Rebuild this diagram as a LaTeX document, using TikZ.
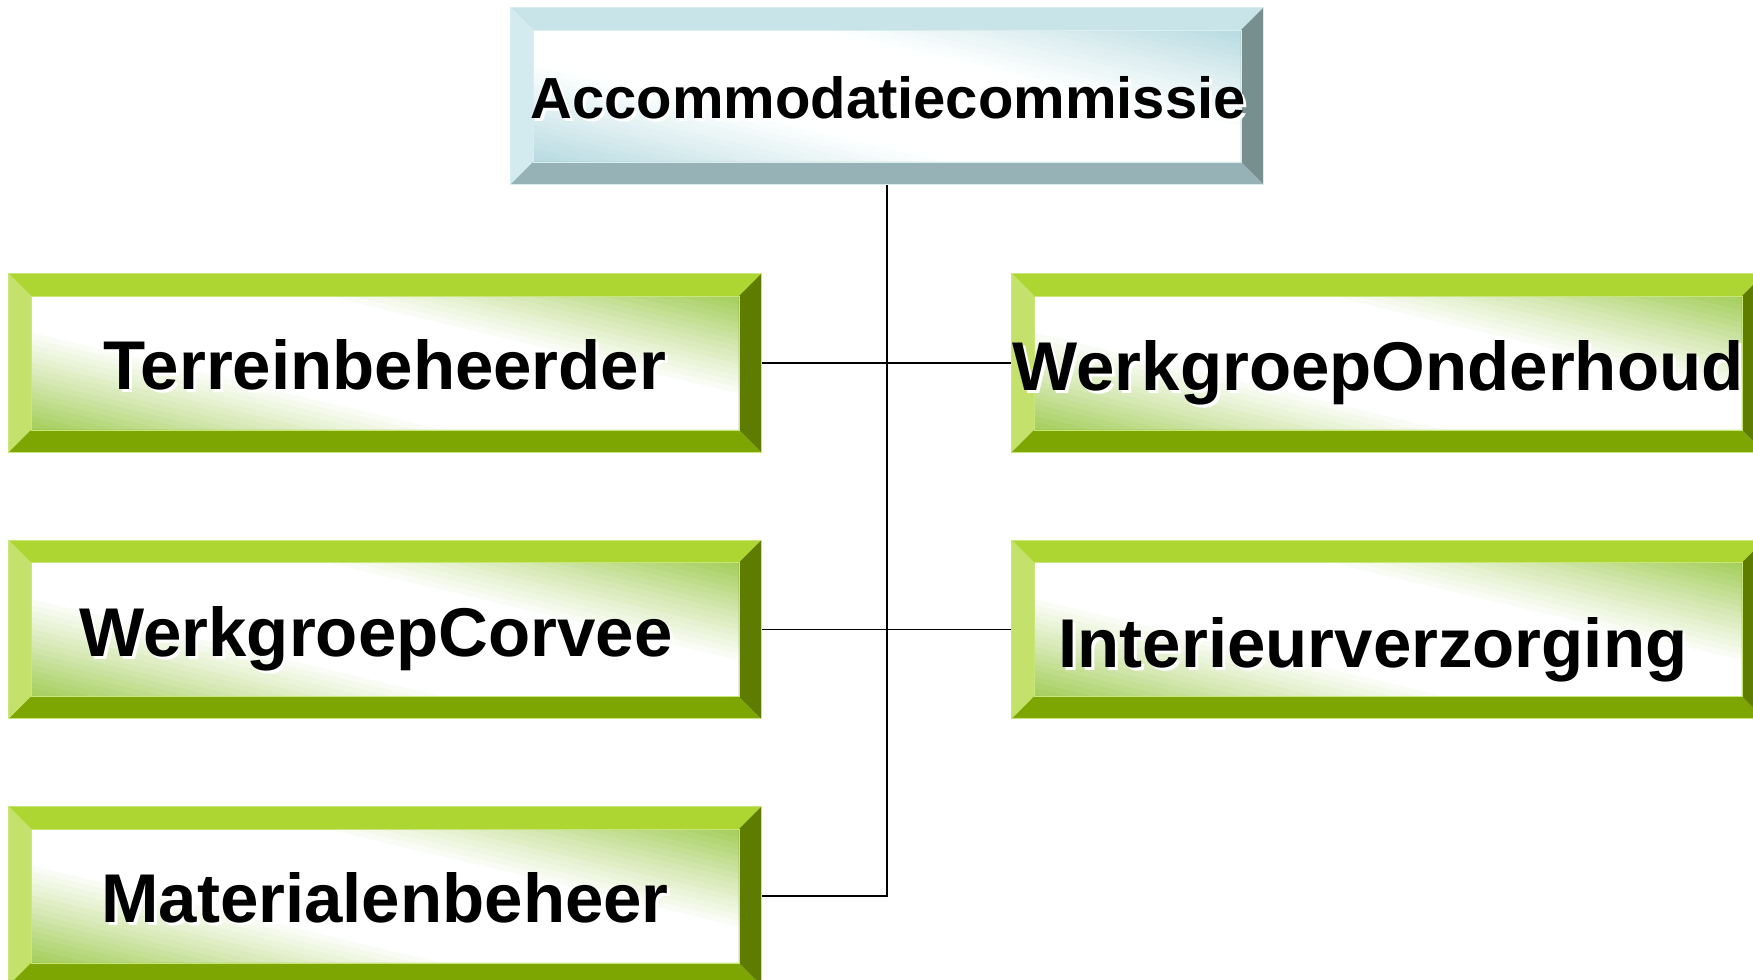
\documentclass[tikz,border=0pt]{standalone}
\usepackage{fontspec}
\setmainfont{Liberation Sans}
\usetikzlibrary{calc}
\definecolor{gTop}{HTML}{AED632}
\definecolor{gLeft}{HTML}{C4E26B}
\definecolor{gBot}{HTML}{7EA602}
\definecolor{gRight}{HTML}{5E7D00}
\definecolor{gEdge}{HTML}{C8E67A}
\definecolor{gC}{HTML}{A3CD58}
\definecolor{bTop}{HTML}{C8E4E8}
\definecolor{bLeft}{HTML}{D3EBEE}
\definecolor{bBot}{HTML}{97B2B6}
\definecolor{bRight}{HTML}{77908F}
\definecolor{bEdge}{HTML}{D8EEF0}
\definecolor{bC}{HTML}{B5DAE0}
\tikzset{
  gface/.style={minimum width=376pt, minimum height=89pt, inner sep=0pt},
  bface/.style={minimum width=376pt, minimum height=88pt, inner sep=0pt},
  lbl/.style={font=\bfseries\fontsize{34.5}{40}\selectfont, anchor=base, inner sep=0pt},
  toplbl/.style={lbl, font=\bfseries\fontsize{29}{34}\selectfont},
  conn/.style={draw=black, line width=0.75pt}
}
% diagonal gradient face: white band from top-left to bottom-right corner,
% colour #4 towards the top-right and bottom-left corners
\newcommand\facefill[4]{%
  \begin{scope}
    \clip (#1.north west) rectangle (#1.south east);
    \fill[white] (#1.north west) rectangle (#1.south east);
    \begin{scope}[shift={(#1.center)}]
      \foreach \k in {0,...,59}{
        \pgfmathsetmacro\ftA{-1+\k/30}
        \pgfmathsetmacro\ftB{\ftA+1/30+0.006}
        \pgfmathsetmacro\ftM{abs(\ftA+1/60)}
        \pgfmathsetmacro\ftP{\ftM<0.28 ? 0 : (\ftM<0.55 ? 45*(\ftM-0.28)/0.27 : min(100,45+55*(\ftM-0.55)/0.30))}
        \fill[#4!\ftP!white] ({#2*(-1+\ftA)},{#3*(-1-\ftA)}) -- ({#2*(1+\ftA)},{#3*(1-\ftA)}) -- ({#2*(1+\ftB)},{#3*(1-\ftB)}) -- ({#2*(-1+\ftB)},{#3*(-1-\ftB)}) -- cycle;
      }
    \end{scope}
  \end{scope}}
\newcommand\bevel[6]{%
  \fill[#2] (#1.north west) -- (#1.north east) -- ([shift={(-22.5,22.5)}]#1.north east) -- ([shift={(22.5,22.5)}]#1.north west) -- cycle;
  \fill[#3] (#1.north west) -- ([shift={(22.5,22.5)}]#1.north west) -- ([shift={(22.5,-22.5)}]#1.south west) -- (#1.south west) -- cycle;
  \fill[#4] (#1.south west) -- ([shift={(22.5,-22.5)}]#1.south west) -- ([shift={(-22.5,-22.5)}]#1.south east) -- (#1.south east) -- cycle;
  \fill[#5] (#1.north east) -- (#1.south east) -- ([shift={(-22.5,-22.5)}]#1.south east) -- ([shift={(-22.5,22.5)}]#1.north east) -- cycle;
  \draw[#6, line width=0.5pt] (#1.north west) rectangle (#1.south east);
  \draw[#6, line width=0.4pt] ([shift={(22.5,22.5)}]#1.north west) rectangle ([shift={(-22.5,-22.5)}]#1.south east);
}
\newcommand\shlabel[4]{%
  \node[#3, text=white] (#1s) at ([shift={(3,3)}]#2) {#4};
  \node[#3, text=black] (#1) at (#2) {#4};
}
\begin{document}
\begin{tikzpicture}[x=0.5pt, y=-0.5pt]
\useasboundingbox (0,0) rectangle (1753,980);
\fill[white] (0,0) rectangle (1753,980);
\clip (0,0) rectangle (1753,980);
% boxes
\node[bface] (top) at (887,96) {};
\node[gface] (t) at (385,363) {};
\node[gface] (c) at (385,629.5) {};
\node[gface] (m) at (385,896) {};
\node[gface] (wo) at (1388,363) {};
\node[gface] (iv) at (1388,629.5) {};
% connectors
\draw[conn] (top.south) |- (m.east);
\draw[conn] (t.east) -- (wo.west);
\draw[conn] (c.east) -- (iv.west);
% faces
\facefill{top}{376}{88}{bC}
\facefill{t}{376}{89}{gC}
\facefill{c}{376}{89}{gC}
\facefill{m}{376}{89}{gC}
\facefill{wo}{376}{89}{gC}
\facefill{iv}{376}{89}{gC}
% bevels
\bevel{top}{bTop}{bLeft}{bBot}{bRight}{bEdge}
\bevel{t}{gTop}{gLeft}{gBot}{gRight}{gEdge}
\bevel{c}{gTop}{gLeft}{gBot}{gRight}{gEdge}
\bevel{m}{gTop}{gLeft}{gBot}{gRight}{gEdge}
\bevel{wo}{gTop}{gLeft}{gBot}{gRight}{gEdge}
\bevel{iv}{gTop}{gLeft}{gBot}{gRight}{gEdge}
% labels
\shlabel{topl}{888,118}{toplbl}{Accommodatiecommissie}
\shlabel{tl}{385,389}{lbl}{Terreinbeheerder}
\shlabel{wol}{1378,390}{lbl}{WerkgroepOnderhoud}
\shlabel{cl}{376,656}{lbl}{WerkgroepCorvee}
\shlabel{ivl}{1373,667}{lbl}{Interieurverzorging}
\shlabel{ml}{385,922}{lbl}{Materialenbeheer}
\end{tikzpicture}
\end{document}
